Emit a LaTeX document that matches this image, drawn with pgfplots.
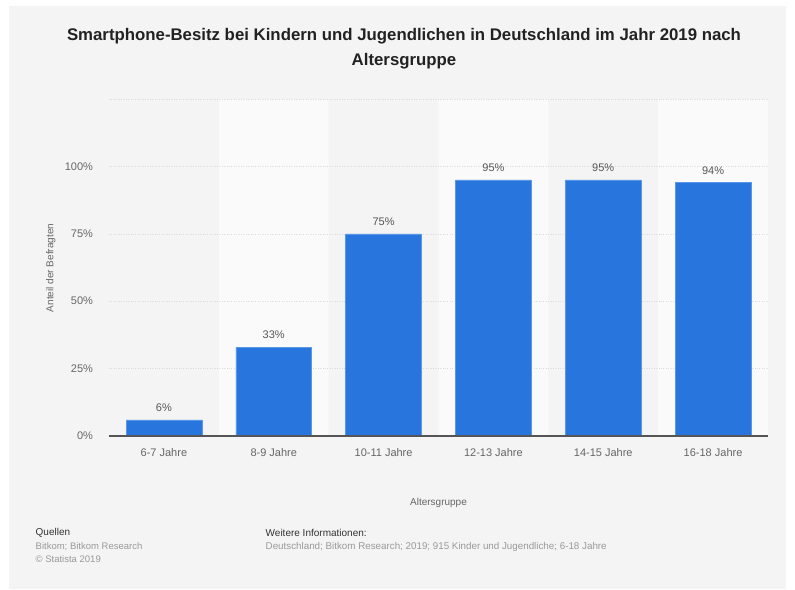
\documentclass[border=0pt]{standalone}
\usepackage{pgfplots}
\pgfplotsset{compat=1.18}
\usepackage{fontspec}
\setmainfont{Liberation Sans}
\definecolor{panel}{HTML}{F4F4F4}
\definecolor{band}{HTML}{FAFAFA}
\definecolor{barblue}{HTML}{2876DD}
\definecolor{barborder}{HTML}{5A97E8}
\definecolor{gridc}{HTML}{DADADA}
\definecolor{ticktext}{HTML}{666666}
\definecolor{valtext}{HTML}{555555}
\definecolor{titletext}{HTML}{222222}
\definecolor{foottext}{HTML}{999999}
\definecolor{foothead}{HTML}{333333}
\definecolor{axisline}{HTML}{555555}
\pgfplotsset{
  common/.style={
    at={(109pt,153pt)}, anchor=south west,
    width=659pt, height=337pt, scale only axis,
    xmin=-0.5, xmax=5.5, ymin=0, ymax=125,
  }
}
\begin{document}
\begin{tikzpicture}[x=1pt,y=1pt]
\fill[white] (0,0) rectangle (795,589);
\fill[panel] (9,0) rectangle (786,583);
\node[font=\fontsize{16.8}{19}\selectfont\bfseries, text=titletext] at (404,553) {Smartphone-Besitz bei Kindern und Jugendlichen in Deutschland im Jahr 2019 nach};
\node[font=\fontsize{16.8}{19}\selectfont\bfseries, text=titletext] at (404,528) {Altersgruppe};
% background bands
\begin{axis}[common, hide axis]
\addplot[ybar, bar width=1, bar shift=0pt, fill=band, draw=none]
  coordinates {(1,125) (3,125) (5,125)};
\end{axis}
% main axis
\begin{axis}[
  common,
  axis line style={draw=none},
  major tick length=0pt,
  tick style={draw=none},
  ymajorgrids,
  grid style={gridc, dotted, line width=0.5pt},
  ytick={0,25,50,75,100},
  yticklabels={0\%,25\%,50\%,75\%,100\%},
  extra y ticks={125}, extra y tick labels={},
  xtick={0,1,2,3,4,5},
  xticklabels={6-7 Jahre,8-9 Jahre,10-11 Jahre,12-13 Jahre,14-15 Jahre,16-18 Jahre},
  xticklabel style={font=\fontsize{11}{13}\selectfont, text=ticktext, yshift=-8.5pt},
  yticklabel style={font=\fontsize{11}{13}\selectfont, text=ticktext, xshift=-12.5pt},
  /pgf/number format/assume math mode=true,
  clip=false,
]
\addplot[ybar, bar width=0.69, bar shift=0pt, fill=barblue, draw=barborder, line width=0.5pt,
  nodes near coords={\pgfmathprintnumber{\pgfplotspointmeta}\%},
  nodes near coords style={font=\fontsize{11}{13}\selectfont, text=valtext, yshift=4.5pt}]
  coordinates {(0,6) (1,33) (2,75) (3,95) (4,95) (5,94)};
\draw[axisline, line width=1.2pt] (axis cs:-0.5,0) -- (axis cs:5.5,0);
\end{axis}
\node[rotate=90, font=\fontsize{10}{12}\selectfont, text=ticktext] at (50.7,321) {Anteil der Befragten};
\node[font=\fontsize{10}{12}\selectfont, text=ticktext] at (438.5,86) {Altersgruppe};
\node[anchor=west, inner sep=0pt, font=\fontsize{10}{12}\selectfont, text=foothead] at (35.5,56) {Quellen};
\node[anchor=west, inner sep=0pt, font=\fontsize{9.5}{11}\selectfont, text=foottext] at (35.5,42) {Bitkom; Bitkom Research};
\node[anchor=west, inner sep=0pt, font=\fontsize{9.5}{11}\selectfont, text=foottext] at (35.5,30) {\textcopyright{} Statista 2019};
\node[anchor=west, inner sep=0pt, font=\fontsize{10}{12}\selectfont, text=foothead] at (265.5,56) {Weitere Informationen:};
\node[anchor=west, inner sep=0pt, font=\fontsize{9.8}{11}\selectfont, text=foottext] at (265.5,42) {Deutschland; Bitkom Research; 2019; 915 Kinder und Jugendliche; 6-18 Jahre};
\end{tikzpicture}
\end{document}
